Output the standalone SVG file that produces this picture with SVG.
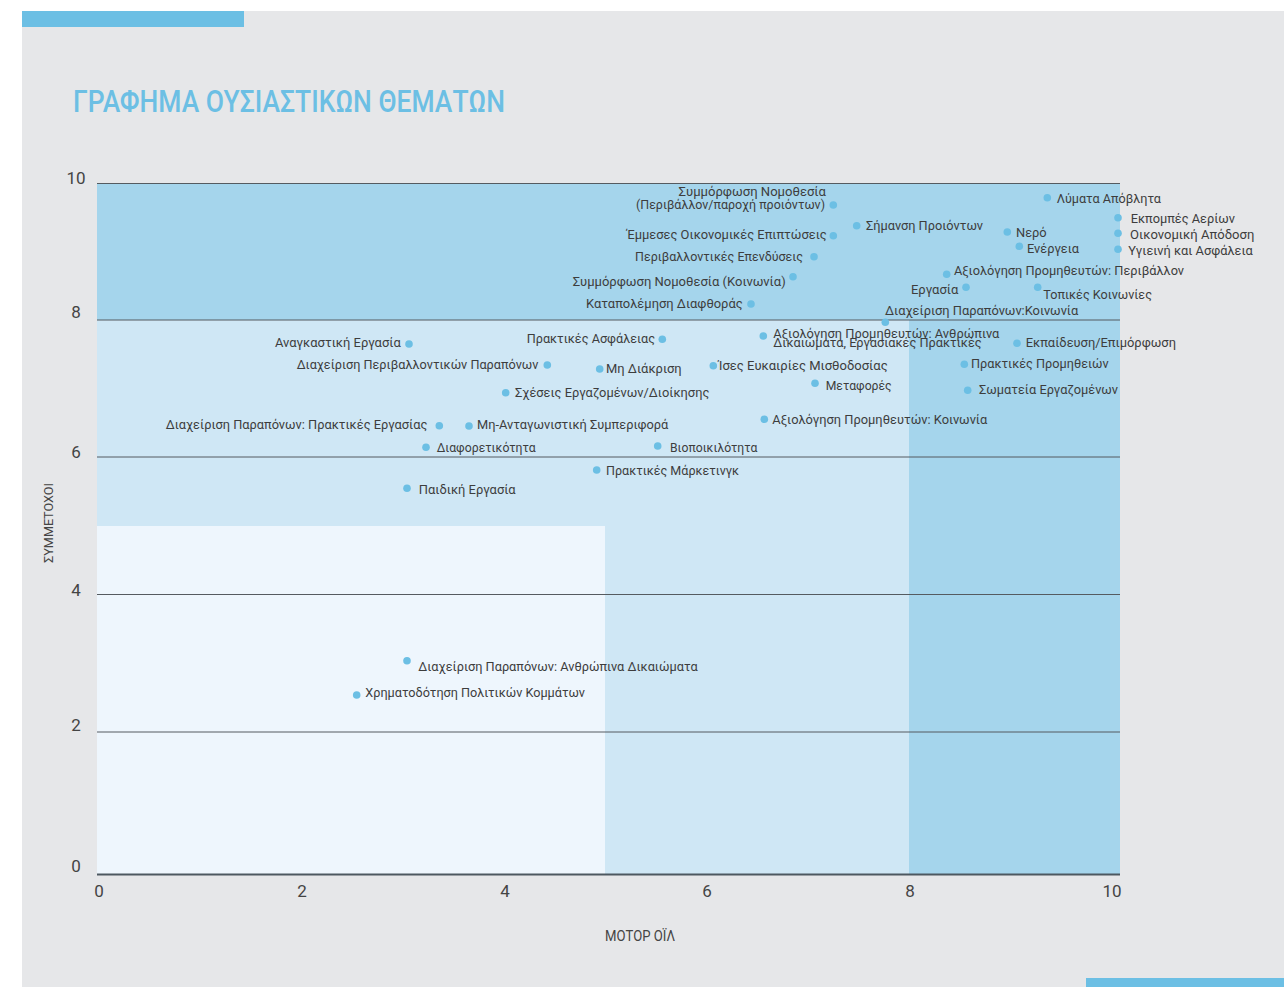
<svg xmlns="http://www.w3.org/2000/svg" width="1284" height="987" viewBox="0 0 1284 987">
<style>
.lbl{font-family:Roboto,"Liberation Sans",sans-serif;font-size:13px;fill:#3d3d3d}
.end{text-anchor:end}
.num{font-family:Roboto,"Liberation Sans",sans-serif;font-size:17px;fill:#444;text-anchor:middle}
.grid{stroke:#555b60;stroke-width:1}
.dot{fill:#6cbfe4}
</style>
<rect x="0" y="0" width="1284" height="987" fill="#ffffff"/>
<rect x="22" y="11" width="1262" height="976" fill="#e6e7e9"/>
<rect x="22" y="11" width="222" height="16" fill="#6cbfe4"/>
<rect x="1086" y="978" width="198" height="9" fill="#6cbfe4"/>
<text x="73" y="112" font-family="Roboto,'Liberation Sans',sans-serif" font-size="30.5" font-weight="500" fill="#6cbfe4" textLength="432" lengthAdjust="spacingAndGlyphs">ΓΡΑΦΗΜΑ ΟΥΣΙΑΣΤΙΚΩΝ ΘΕΜΑΤΩΝ</text>

<g id="plot-areas">
<rect x="97" y="526" width="508" height="348" fill="#eef6fd"/>
<rect x="97" y="320" width="812" height="206" fill="#cfe7f5"/>
<rect x="605" y="526" width="304" height="348" fill="#cfe7f5"/>
<rect x="97" y="183" width="1023" height="137" fill="#a5d5ec"/>
<rect x="909" y="320" width="211" height="554" fill="#a5d5ec"/>
</g>

<g id="grid">
<line class="grid" x1="97" y1="183.5" x2="1120" y2="183.5"/>
<line class="grid" x1="97" y1="320" x2="1120" y2="320"/>
<line class="grid" x1="97" y1="457" x2="1120" y2="457"/>
<line class="grid" x1="97" y1="594.5" x2="1120" y2="594.5"/>
<line class="grid" x1="97" y1="732" x2="1120" y2="732"/>
<line x1="97" y1="874.5" x2="1120" y2="874.5" stroke="#4d5860" stroke-width="2"/>
</g>

<g id="axes">
<text class="num" x="76" y="184">10</text>
<text class="num" x="76" y="318">8</text>
<text class="num" x="76" y="458">6</text>
<text class="num" x="76" y="596">4</text>
<text class="num" x="76" y="731">2</text>
<text class="num" x="76" y="872">0</text>
<text class="num" x="99" y="897">0</text>
<text class="num" x="302" y="897">2</text>
<text class="num" x="505" y="897">4</text>
<text class="num" x="707" y="897">6</text>
<text class="num" x="910" y="897">8</text>
<text class="num" x="1112" y="897">10</text>
<text x="640" y="941" font-family="Roboto,'Liberation Sans',sans-serif" font-size="14" fill="#444" text-anchor="middle" textLength="70" lengthAdjust="spacingAndGlyphs">ΜΟΤΟΡ ΟΪΛ</text>
<text transform="translate(53,523) rotate(-90)" x="0" y="0" font-family="Roboto,'Liberation Sans',sans-serif" font-size="13" fill="#444" text-anchor="middle" textLength="80" lengthAdjust="spacingAndGlyphs">ΣΥΜΜΕΤΟΧΟΙ</text>
</g>

<g id="connectors"></g>

<g id="n1"><circle class="dot" cx="833.3" cy="205" r="3.8"/><text class="lbl end" x="826" y="195.5" textLength="147.4" lengthAdjust="spacingAndGlyphs">Συμμόρφωση Νομοθεσία</text><text class="lbl end" x="825" y="209.3" textLength="189" lengthAdjust="spacingAndGlyphs">(Περιβάλλον/παροχή προιόντων)</text></g>
<g id="n2"><circle class="dot" cx="856.7" cy="225.7" r="3.8"/><text class="lbl" x="866" y="230" textLength="117" lengthAdjust="spacingAndGlyphs">Σήμανση Προιόντων</text></g>
<g id="n3"><circle class="dot" cx="833.3" cy="235.7" r="3.8"/><text class="lbl end" x="826.7" y="238.5" textLength="200" lengthAdjust="spacingAndGlyphs">Έμμεσες Οικονομικές Επιπτώσεις</text></g>
<g id="n4"><circle class="dot" cx="814" cy="256.7" r="3.8"/><text class="lbl end" x="803" y="260.7" textLength="168" lengthAdjust="spacingAndGlyphs">Περιβαλλοντικές Επενδύσεις</text></g>
<g id="n5"><circle class="dot" cx="793" cy="276.7" r="3.8"/><text class="lbl end" x="785.7" y="286" textLength="213" lengthAdjust="spacingAndGlyphs">Συμμόρφωση Νομοθεσία (Κοινωνία)</text></g>
<g id="n6"><circle class="dot" cx="751" cy="304" r="3.8"/><text class="lbl end" x="742.7" y="308.3" textLength="156.7" lengthAdjust="spacingAndGlyphs">Καταπολέμηση Διαφθοράς</text></g>
<g id="n7"><circle class="dot" cx="1047.3" cy="197.7" r="3.8"/><text class="lbl" x="1056.7" y="202.7" textLength="104.3" lengthAdjust="spacingAndGlyphs">Λύματα Απόβλητα</text></g>
<g id="n8"><circle class="dot" cx="1118" cy="217.7" r="3.8"/><text class="lbl" x="1130.7" y="223.3" textLength="104.3" lengthAdjust="spacingAndGlyphs">Εκπομπές Αερίων</text></g>
<g id="n9"><circle class="dot" cx="1118" cy="233.3" r="3.8"/><text class="lbl" x="1130" y="239" textLength="124.3" lengthAdjust="spacingAndGlyphs">Οικονομική Απόδοση</text></g>
<g id="n10"><circle class="dot" cx="1118" cy="249.3" r="3.8"/><text class="lbl" x="1128.3" y="254.7" textLength="124.4" lengthAdjust="spacingAndGlyphs">Υγιεινή και Ασφάλεια</text></g>
<g id="n11"><circle class="dot" cx="1007.3" cy="232" r="3.8"/><text class="lbl" x="1016" y="237.3" textLength="30.7" lengthAdjust="spacingAndGlyphs">Νερό</text></g>
<g id="n12"><circle class="dot" cx="1019.3" cy="246.3" r="3.8"/><text class="lbl" x="1027" y="253.3" textLength="52" lengthAdjust="spacingAndGlyphs">Ενέργεια</text></g>
<g id="n13"><circle class="dot" cx="946.7" cy="274.3" r="3.8"/><text class="lbl" x="954" y="275" textLength="230" lengthAdjust="spacingAndGlyphs">Αξιολόγηση Προμηθευτών: Περιβάλλον</text></g>
<g id="n14"><circle class="dot" cx="966" cy="287.3" r="3.8"/><text class="lbl end" x="958.3" y="294" textLength="47.3" lengthAdjust="spacingAndGlyphs">Εργασία</text></g>
<g id="n15"><circle class="dot" cx="1037.7" cy="287.3" r="3.8"/><text class="lbl" x="1043.3" y="299.3" textLength="108.7" lengthAdjust="spacingAndGlyphs">Τοπικές Κοινωνίες</text></g>
<g id="n16"><circle class="dot" cx="885.3" cy="322.3" r="3.8"/><text class="lbl" x="885" y="315" textLength="193.3" lengthAdjust="spacingAndGlyphs">Διαχείριση Παραπόνων:Κοινωνία</text></g>
<g id="n17"><circle class="dot" cx="763.3" cy="336" r="3.8"/><text class="lbl" x="773.3" y="337.5" textLength="226" lengthAdjust="spacingAndGlyphs">Αξιολόγηση Προμηθευτών: Ανθρώπινα</text><text class="lbl" x="773.3" y="347" textLength="208.4" lengthAdjust="spacingAndGlyphs">Δικαιώματα, Εργασιακές Πρακτικές</text></g>
<g id="n18"><circle class="dot" cx="1017" cy="343.3" r="3.8"/><text class="lbl" x="1025.7" y="346.7" textLength="150.3" lengthAdjust="spacingAndGlyphs">Εκπαίδευση/Επιμόρφωση</text></g>
<g id="n19"><circle class="dot" cx="964.3" cy="364.3" r="3.8"/><text class="lbl" x="971" y="367.7" textLength="137.7" lengthAdjust="spacingAndGlyphs">Πρακτικές Προμηθειών</text></g>
<g id="n20"><circle class="dot" cx="967.7" cy="390.3" r="3.8"/><text class="lbl" x="979" y="394" textLength="139" lengthAdjust="spacingAndGlyphs">Σωματεία Εργαζομένων</text></g>
<g id="n21"><circle class="dot" cx="815" cy="383.3" r="3.8"/><text class="lbl" x="825.7" y="390" textLength="66" lengthAdjust="spacingAndGlyphs">Μεταφορές</text></g>
<g id="n22"><circle class="dot" cx="713.3" cy="365.7" r="3.8"/><text class="lbl" x="718.3" y="370" textLength="169.4" lengthAdjust="spacingAndGlyphs">Ίσες Ευκαιρίες Μισθοδοσίας</text></g>
<g id="n23"><circle class="dot" cx="599.7" cy="369" r="3.8"/><text class="lbl" x="606" y="373.3" textLength="75.7" lengthAdjust="spacingAndGlyphs">Μη Διάκριση</text></g>
<g id="n24"><circle class="dot" cx="662.3" cy="339.3" r="3.8"/><text class="lbl end" x="655" y="343.3" textLength="128.3" lengthAdjust="spacingAndGlyphs">Πρακτικές Ασφάλειας</text></g>
<g id="n25"><circle class="dot" cx="409" cy="344" r="3.8"/><text class="lbl end" x="400.7" y="347.3" textLength="125.7" lengthAdjust="spacingAndGlyphs">Αναγκαστική Εργασία</text></g>
<g id="n26"><circle class="dot" cx="547.3" cy="365" r="3.8"/><text class="lbl end" x="538.3" y="369.3" textLength="241.6" lengthAdjust="spacingAndGlyphs">Διαχείριση Περιβαλλοντικών Παραπόνων</text></g>
<g id="n27"><circle class="dot" cx="505.7" cy="392.7" r="3.8"/><text class="lbl" x="515" y="397.3" textLength="194.3" lengthAdjust="spacingAndGlyphs">Σχέσεις Εργαζομένων/Διοίκησης</text></g>
<g id="n28"><circle class="dot" cx="439.3" cy="425.7" r="3.8"/><text class="lbl end" x="427.3" y="429.3" textLength="261.6" lengthAdjust="spacingAndGlyphs">Διαχείριση Παραπόνων: Πρακτικές Εργασίας</text></g>
<g id="n29"><circle class="dot" cx="469" cy="426" r="3.8"/><text class="lbl" x="477" y="429.3" textLength="191.3" lengthAdjust="spacingAndGlyphs">Μη-Ανταγωνιστική Συμπεριφορά</text></g>
<g id="n30"><circle class="dot" cx="426" cy="447.3" r="3.8"/><text class="lbl" x="436.7" y="451.7" textLength="99" lengthAdjust="spacingAndGlyphs">Διαφορετικότητα</text></g>
<g id="n31"><circle class="dot" cx="657.7" cy="446" r="3.8"/><text class="lbl" x="670" y="452.3" textLength="87.3" lengthAdjust="spacingAndGlyphs">Βιοποικιλότητα</text></g>
<g id="n32"><circle class="dot" cx="764.3" cy="419.3" r="3.8"/><text class="lbl" x="772.3" y="424" textLength="215" lengthAdjust="spacingAndGlyphs">Αξιολόγηση Προμηθευτών: Κοινωνία</text></g>
<g id="n33"><circle class="dot" cx="596.7" cy="470" r="3.8"/><text class="lbl" x="606" y="475" textLength="133" lengthAdjust="spacingAndGlyphs">Πρακτικές Μάρκετινγκ</text></g>
<g id="n34"><circle class="dot" cx="407" cy="488.3" r="3.8"/><text class="lbl" x="418.7" y="494" textLength="97" lengthAdjust="spacingAndGlyphs">Παιδική Εργασία</text></g>
<g id="n35"><circle class="dot" cx="407" cy="660.7" r="3.8"/><text class="lbl" x="418.3" y="670.7" textLength="279.4" lengthAdjust="spacingAndGlyphs">Διαχείριση Παραπόνων: Ανθρώπινα Δικαιώματα</text></g>
<g id="n36"><circle class="dot" cx="356.7" cy="695" r="3.8"/><text class="lbl" x="365.3" y="697.3" textLength="219.7" lengthAdjust="spacingAndGlyphs">Χρηματοδότηση Πολιτικών Κομμάτων</text></g>
</svg>
